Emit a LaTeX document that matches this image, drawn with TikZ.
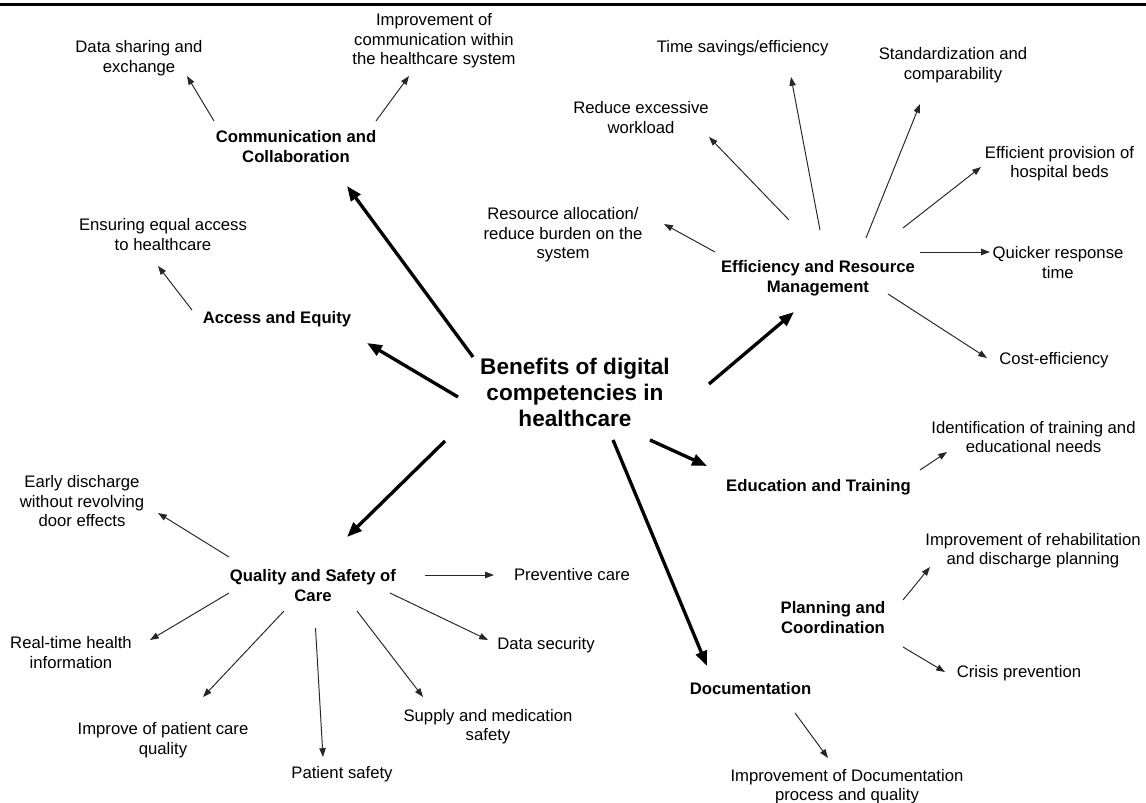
\documentclass[tikz,border=0pt]{standalone}
\usepackage{fontspec}
\setmainfont{Liberation Sans}
\usetikzlibrary{arrows.meta}
\begin{document}
\begin{tikzpicture}[x=0.02cm,y=-0.02cm,
  leaf/.style={inner sep=0pt, align=center, font=\fontsize{9.5}{11.1}\selectfont},
  hub/.style={inner sep=0pt, align=center, font=\fontsize{9.5}{11.4}\selectfont\bfseries},
  core/.style={inner sep=0pt, align=center, font=\fontsize{12.86}{14.8}\selectfont\bfseries},
  thinarrow/.style={line width=0.55pt, draw=black!85, -{Triangle[length=5pt,width=3.6pt]}},
  thickarrow/.style={line width=1.9pt, -{Triangle[length=8.5pt,width=6.5pt]}}]
\useasboundingbox (0,0) rectangle (1146,803);

% header rule
\coordinate (rule-l) at (0,4.5);
\coordinate (rule-r) at (1146,4.5);
\draw[line width=2.1pt] (rule-l) -- (rule-r);

% central topic
\node[core] (title) at (575,392.6) {Benefits of digital\\competencies in\\healthcare};

% categories
\node[hub] (comm) at (296,147) {Communication and\\Collaboration};
\node[hub] (access) at (277,318.7) {Access and Equity};
\node[hub] (eff) at (818,278.4) {Efficiency and Resource\\Management};
\node[hub] (edu) at (818.5,487.4) {Education and Training};
\node[hub] (qual) at (313,586) {Quality and Safety of\\Care};
\node[hub] (plan) at (833,617.2) {Planning and\\Coordination};
\node[hub] (doc) at (750.5,689) {Documentation};

% benefits
\node[leaf] (datash) at (139,58) {Data sharing and\\exchange};
\node[leaf] (commimp) at (434,41) {Improvement of\\communication within\\the healthcare system};
\node[leaf] (equal) at (163,234.5) {Ensuring equal access\\to healthcare};
\node[leaf] (time) at (742.6,48.3) {Time savings/efficiency};
\node[leaf] (stand) at (953,65) {Standardization and\\comparability};
\node[leaf] (workload) at (641,117.5) {Reduce excessive\\workload};
\node[leaf] (beds) at (1059.5,163.6) {Efficient provision of\\hospital beds};
\node[leaf] (resalloc) at (563,234.7) {Resource allocation/\\reduce burden on the\\system};
\node[leaf] (quicker) at (1058,262.4) {Quicker response\\time};
\node[leaf] (cost) at (1054,360.6) {Cost-efficiency};
\node[leaf] (ident) at (1033.5,436.9) {Identification of training and\\educational needs};
\node[leaf] (rehab) at (1033,550.6) {Improvement of rehabilitation\\and discharge planning};
\node[leaf] (crisis) at (1019,673) {Crisis prevention};
\node[leaf] (docimp) at (847,786.5) {Improvement of Documentation\\process and quality};
\node[leaf] (early) at (82,501.3) {Early discharge\\without revolving\\door effects};
\node[leaf] (prev) at (572,575) {Preventive care};
\node[leaf] (realtime) at (71,652.7) {Real-time health\\information};
\node[leaf] (datasec) at (546,645.6) {Data security};
\node[leaf] (improve) at (163,740.3) {Improve of patient care\\quality};
\node[leaf] (psafety) at (342,774) {Patient safety};
\node[leaf] (supply) at (488,726.6) {Supply and medication\\safety};

% connector ends around the central topic
\coordinate (title-comm) at (473,357);
\coordinate (title-access) at (458,397);
\coordinate (title-eff) at (709,384);
\coordinate (title-edu) at (650,440);
\coordinate (title-doc) at (613,440);
\coordinate (title-qual) at (445,441);
\coordinate (comm-in) at (347,186);
\coordinate (access-in) at (367,343);
\coordinate (eff-in) at (794,312);
\coordinate (edu-in) at (707,466);
\coordinate (doc-in) at (707,666);
\coordinate (qual-in) at (347,537);

\draw[thickarrow] (title-comm) -- (comm-in);
\draw[thickarrow] (title-access) -- (access-in);
\draw[thickarrow] (title-eff) -- (eff-in);
\draw[thickarrow] (title-edu) -- (edu-in);
\draw[thickarrow] (title-doc) -- (doc-in);
\draw[thickarrow] (title-qual) -- (qual-in);

% communication and collaboration
\coordinate (comm-a) at (214,121);  \coordinate (datash-in) at (187,76);
\coordinate (comm-b) at (376,121);  \coordinate (commimp-in) at (409,76);
\draw[thinarrow] (comm-a) -- (datash-in);
\draw[thinarrow] (comm-b) -- (commimp-in);

% access and equity
\coordinate (access-a) at (192,310); \coordinate (equal-in) at (158,266);
\draw[thinarrow] (access-a) -- (equal-in);

% efficiency and resource management
\coordinate (eff-a) at (715,252); \coordinate (resalloc-in) at (664,224);
\coordinate (eff-b) at (789,220); \coordinate (workload-in) at (709,137);
\coordinate (eff-c) at (820,230); \coordinate (time-in) at (791,77);
\coordinate (eff-d) at (866,238); \coordinate (stand-in) at (920,104);
\coordinate (eff-e) at (903,228); \coordinate (beds-in) at (981,167);
\coordinate (eff-f) at (920,252); \coordinate (quicker-in) at (990,252);
\coordinate (eff-g) at (888,294); \coordinate (cost-in) at (987,358);
\draw[thinarrow] (eff-a) -- (resalloc-in);
\draw[thinarrow] (eff-b) -- (workload-in);
\draw[thinarrow] (eff-c) -- (time-in);
\draw[thinarrow] (eff-d) -- (stand-in);
\draw[thinarrow] (eff-e) -- (beds-in);
\draw[thinarrow] (eff-f) -- (quicker-in);
\draw[thinarrow] (eff-g) -- (cost-in);

% education, planning, documentation
\coordinate (edu-a) at (920,470);  \coordinate (ident-in) at (947,452);
\coordinate (plan-a) at (903,600); \coordinate (rehab-in) at (930,567);
\coordinate (plan-b) at (903,647); \coordinate (crisis-in) at (945,672);
\coordinate (doc-a) at (795,713);  \coordinate (docimp-in) at (828,758);
\draw[thinarrow] (edu-a) -- (ident-in);
\draw[thinarrow] (plan-a) -- (rehab-in);
\draw[thinarrow] (plan-b) -- (crisis-in);
\draw[thinarrow] (doc-a) -- (docimp-in);

% quality and safety of care
\coordinate (qual-a) at (229,557);   \coordinate (early-in) at (158,513);
\coordinate (qual-b) at (425,575);   \coordinate (prev-in) at (494,575);
\coordinate (qual-c) at (229,593);   \coordinate (realtime-in) at (150,640);
\coordinate (qual-d) at (390,593);   \coordinate (datasec-in) at (488,640);
\coordinate (qual-e) at (284,611);   \coordinate (improve-in) at (203,697);
\coordinate (qual-f) at (315.5,628); \coordinate (psafety-in) at (323,757);
\coordinate (qual-g) at (357,611);   \coordinate (supply-in) at (423,697);
\draw[thinarrow] (qual-a) -- (early-in);
\draw[thinarrow] (qual-b) -- (prev-in);
\draw[thinarrow] (qual-c) -- (realtime-in);
\draw[thinarrow] (qual-d) -- (datasec-in);
\draw[thinarrow] (qual-e) -- (improve-in);
\draw[thinarrow] (qual-f) -- (psafety-in);
\draw[thinarrow] (qual-g) -- (supply-in);
\end{tikzpicture}
\end{document}
